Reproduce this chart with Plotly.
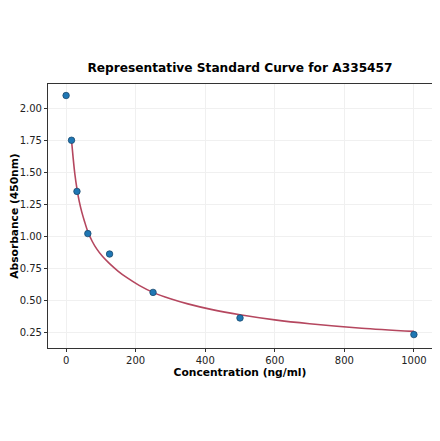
import plotly.graph_objects as go

# standard points
conc = [0, 15.6, 31.25, 62.5, 125, 250, 500, 1000]
absorb = [2.10, 1.75, 1.35, 1.02, 0.86, 0.56, 0.36, 0.23]

# fitted curve
curve_x = [15.6, 20, 25, 31.25, 38, 45, 53, 62.5, 75, 88, 105, 125, 150, 175,
           210, 250, 300, 350, 420, 500, 600, 700, 850, 1000]
curve_y = [1.75, 1.62, 1.49, 1.37, 1.27, 1.19, 1.115, 1.035, 0.96, 0.90, 0.84, 0.785,
           0.725, 0.675, 0.615, 0.56, 0.51, 0.47, 0.425, 0.385, 0.345, 0.315, 0.28, 0.255]

x_ticks = [0, 200, 400, 600, 800, 1000]
y_ticks = [0.25, 0.50, 0.75, 1.00, 1.25, 1.50, 1.75, 2.00]

font = "DejaVu Sans"

fig = go.Figure()
fig.add_trace(go.Scatter(x=curve_x, y=curve_y, mode="lines",
                         line=dict(color="#b5475f", width=1.6, shape="spline", smoothing=0.8),
                         showlegend=False))
fig.add_trace(go.Scatter(x=conc, y=absorb, mode="markers",
                         marker=dict(color="#1f77b4", size=6.5,
                                     line=dict(color="#1c4a6e", width=0.8)),
                         showlegend=False))

axis = dict(showline=True, linecolor="#333333", linewidth=1.2, mirror=True,
            showgrid=True, gridcolor="#f0f0f0", gridwidth=1, zeroline=False,
            ticks="outside", ticklen=3, tickcolor="#333333", automargin=False,
            tickfont=dict(family=font, size=10, color="#222222"))

# page body adds 8px offset, margins compensate
fig.update_layout(
    width=440, height=441,
    paper_bgcolor="white", plot_bgcolor="white",
    margin=dict(l=40, r=16, t=76, b=101, autoexpand=False),
    title=dict(text="<b>Representative Standard Curve for A335457</b>",
               xref="paper", x=0.5, xanchor="center",
               yref="container", y=0.864, yanchor="middle",
               font=dict(family=font, size=12.2, color="black")),
    xaxis=dict(axis, range=[-52, 1052], tickvals=x_ticks,
               title=dict(text="<b>Concentration (ng/ml)</b>", standoff=0,
                          font=dict(family=font, size=10.7, color="black"))),
    yaxis=dict(axis, range=[0.125, 2.19], tickvals=y_ticks,
               tickformat=".2f",
               title=dict(text="<b>Absorbance (450nm)</b>", standoff=0,
                          font=dict(family=font, size=10.7, color="black"))),
)

fig.write_html("out.html")
